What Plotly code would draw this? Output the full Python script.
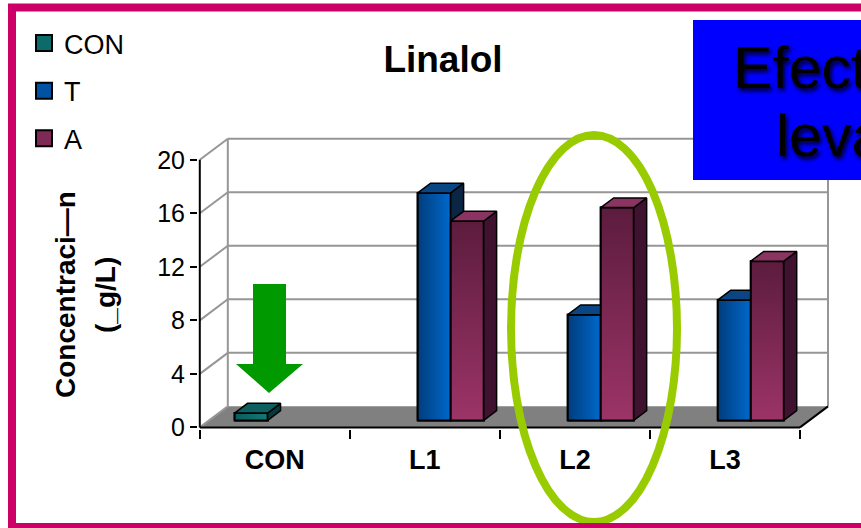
import plotly.graph_objects as go

# ---- data -------------------------------------------------------------
categories = ["CON", "L1", "L2", "L3"]
series_names = ["CON", "T", "A"]
con_values = [0.55, None, None, None]
t_values = [None, 17.0, 7.9, 9.0]
a_values = [None, 14.9, 15.9, 11.9]
y_ticks = [0, 4, 8, 12, 16, 20]
y_title_lines = ["Concentraci—n", "(_g/L)"]
chart_title = "Linalol"
banner_lines = ["Efecto de la", "levadura"]

# ---- styling ------------------------------------------------------------
FONT = "Liberation Sans, Arial, sans-serif"
W, H = 861, 528
M_L, M_R, M_T, M_B = 198, 31, 137, 99
X_RANGE = [-0.012, 4.2]
Y_RANGE = [-0.12, 21.7]
PLOT_W = W - M_L - M_R
PLOT_H = H - M_T - M_B

front_colors = {"CON": "#0b6b6b", "T": "#0052a3", "A": "#7f2a56"}
# shading of the front faces: (gradient direction, dark end, light end)
front_shading = {
    "CON": ("horizontal", "#0a5c5c", "#127a78"),
    "T": ("horizontal", "#003d7c", "#0068cc"),
    "A": ("vertical", "#5c1c3e", "#9c3467"),
}
side_colors = {"CON": "#033b3b", "T": "#0b2544", "A": "#3f1330"}
top_colors = {"CON": "#0e5f5f", "T": "#0a4684", "A": "#8a3462"}

# pseudo-3D geometry (axis units)
DEPTH_X = 0.1867          # horizontal shift from front to back wall
DEPTH_Y = 1.571           # vertical shift from front to back wall
BAR_FRONT = 1 / 3         # depth fraction where bar fronts sit
BAR_DEPTH = 0.46          # depth fraction occupied by a bar
BAR_W = 0.22
SLOT = {"CON": -BAR_W, "T": 0.0, "A": BAR_W}
N = len(categories)


def px_x(p):
    """page pixel -> paper x"""
    return (p - M_L) / PLOT_W


def px_y(p):
    """page pixel -> paper y"""
    return (H - M_B - p) / PLOT_H


def to_x(p):
    return X_RANGE[0] + (p - M_L) / PLOT_W * (X_RANGE[1] - X_RANGE[0])


def to_y(p):
    return Y_RANGE[0] + (H - M_B - p) / PLOT_H * (Y_RANGE[1] - Y_RANGE[0])


values = {"CON": con_values, "T": t_values, "A": a_values}
fig = go.Figure()

# ---- front faces of the bars --------------------------------------------
fx = BAR_FRONT * DEPTH_X
fy = BAR_FRONT * DEPTH_Y
for name in series_names:
    xs, ys = [], []
    for i, v in enumerate(values[name]):
        xs.append(i + 0.5 + SLOT[name] + fx)
        ys.append(v)
    fig.add_trace(go.Bar(
        x=xs, y=ys, base=fy, width=BAR_W, name=name, showlegend=False,
        marker=dict(color=front_colors[name], line=dict(color="black", width=2)),
    ))

# ---- side, top and shaded front faces ---------------------------------------
ddx = BAR_DEPTH * DEPTH_X
ddy = BAR_DEPTH * DEPTH_Y


def poly(xs, ys, color=None, gradient=None, width=1.5):
    kw = dict(fillcolor=color) if gradient is None else dict(fillgradient=gradient)
    fig.add_trace(go.Scatter(
        x=xs + [xs[0]], y=ys + [ys[0]], mode="lines", fill="toself",
        line=dict(color="black", width=width),
        hoverinfo="skip", showlegend=False, **kw))


for i in range(N):
    for k, name in enumerate(series_names):
        v = values[name][i]
        if v is None:
            continue
        # value of the bar standing to the right in the same group
        right = None
        if k + 1 < len(series_names):
            right = values[series_names[k + 1]][i]
        xc = i + 0.5 + SLOT[name] + fx
        xl, xr = xc - BAR_W / 2, xc + BAR_W / 2
        top = fy + v
        # gradient shading over the front face
        kind, dark, light = front_shading[name]
        if kind == "horizontal":
            grad = dict(type="horizontal", start=xl, stop=xr,
                        colorscale=[[0, dark], [1, light]])
        else:
            grad = dict(type="vertical", start=fy, stop=top,
                        colorscale=[[0, light], [1, dark]])
        poly([xl, xr, xr, xl], [fy, fy, top, top], gradient=grad, width=2)
        side_base = fy + (min(v, right) if right is not None else 0)
        if side_base < top:
            poly([xr, xr + ddx, xr + ddx, xr],
                 [side_base, side_base + ddy, top + ddy, top], side_colors[name])
        if right is not None and right > v:
            poly([xl, xr, xr, xl + ddx], [top, top, top + ddy, top + ddy], top_colors[name])
        else:
            poly([xl, xr, xr + ddx, xl + ddx], [top, top, top + ddy, top + ddy], top_colors[name])

# ---- legend entries (square swatches) ----------------------------------------
for name in series_names:
    fig.add_trace(go.Scatter(
        x=[None], y=[None], mode="markers", name=name, legendgroup=name,
        marker=dict(symbol="square", size=16, color=front_colors[name],
                    line=dict(color="black", width=2))))

# ---- walls, floor and axis furniture ---------------------------------------
shapes = []
GRID = "#969696"
shapes.append(dict(type="path", xref="x", yref="y", layer="below",
                   path=f"M0,0 L{N},0 L{N + DEPTH_X},{DEPTH_Y} L{DEPTH_X},{DEPTH_Y} Z",
                   fillcolor="#808080", line=dict(width=0)))
for t in y_ticks:
    if t > 0:
        shapes.append(dict(type="line", xref="x", yref="y", layer="below",
                           x0=DEPTH_X, y0=t + DEPTH_Y, x1=N + DEPTH_X, y1=t + DEPTH_Y,
                           line=dict(color=GRID, width=2)))
    shapes.append(dict(type="line", xref="x", yref="y", layer="below",
                       x0=0, y0=t, x1=DEPTH_X, y1=t + DEPTH_Y,
                       line=dict(color=GRID, width=2)))
for xw in (DEPTH_X, N + DEPTH_X):
    shapes.append(dict(type="line", xref="x", yref="y", layer="below",
                       x0=xw, y0=DEPTH_Y, x1=xw, y1=y_ticks[-1] + DEPTH_Y,
                       line=dict(color=GRID, width=2)))
# floor edges and front value axis
shapes.append(dict(type="line", xref="x", yref="y", layer="below",
                   x0=0, y0=0, x1=N, y1=0, line=dict(color="black", width=2)))
shapes.append(dict(type="line", xref="x", yref="y", layer="below",
                   x0=N, y0=0, x1=N + DEPTH_X, y1=DEPTH_Y, line=dict(color="black", width=2)))
shapes.append(dict(type="line", xref="x", yref="y", layer="below",
                   x0=0, y0=0, x1=0, y1=y_ticks[-1], line=dict(color="black", width=2)))

# green block arrow pointing at the control bar
arrow_px = [(253, 284), (286, 284), (286, 364), (303, 364), (269, 393), (236, 364), (253, 364)]
arrow_path = "M" + " L".join(f"{to_x(a):.4f},{to_y(b):.4f}" for a, b in arrow_px) + " Z"
shapes.append(dict(type="path", xref="x", yref="y", layer="above", path=arrow_path,
                   fillcolor="#009900", line=dict(width=0)))

# highlight ring around L2
shapes.append(dict(type="circle", xref="paper", yref="paper", layer="above",
                   x0=px_x(511), x1=px_x(677), y0=px_y(522), y1=px_y(135),
                   line=dict(color="#99cc00", width=8)))

# blue banner box
shapes.append(dict(type="rect", xref="paper", yref="paper", layer="above",
                   x0=px_x(693), x1=px_x(920), y0=px_y(180), y1=px_y(20),
                   fillcolor="#0000ff", line=dict(width=0)))

# frame
shapes.append(dict(type="rect", xref="paper", yref="paper", layer="above",
                   x0=px_x(12), x1=px_x(890), y0=px_y(527), y1=px_y(7.5),
                   line=dict(color="#cc0066", width=8), fillcolor="rgba(0,0,0,0)"))

annotations = []
for txt, cx in zip(y_title_lines, (65, 105)):
    annotations.append(dict(text=txt, xref="paper", yref="paper",
                            x=px_x(cx), y=px_y(295), textangle=-90, showarrow=False,
                            xanchor="center", yanchor="middle",
                            font=dict(family=FONT, size=28, color="black", weight="bold")))
for txt, lx, cy in zip(banner_lines, (731, 774), (68, 136)):
    annotations.append(dict(text=txt, xref="paper", yref="paper",
                            x=px_x(lx), y=px_y(cy), showarrow=False,
                            xanchor="left", yanchor="middle",
                            font=dict(family=FONT, size=59, color="black",
                                      shadow="2px 3px 4px rgba(0,0,0,0.9)")))

fig.update_layout(
    width=W, height=H,
    margin=dict(l=M_L, r=M_R, t=M_T, b=M_B, autoexpand=False),
    paper_bgcolor="white", plot_bgcolor="white",
    barmode="overlay",
    font=dict(family=FONT, color="black"),
    title=dict(text=chart_title, x=443 / W, xanchor="center", y=1 - 59 / H, yanchor="middle",
               font=dict(family=FONT, size=37, color="black", weight="bold")),
    xaxis=dict(range=X_RANGE, tickmode="array",
               tickvals=[i + 0.5 for i in range(N)], ticktext=categories,
               ticks="", showgrid=False, zeroline=False, showline=False,
               ticklabelstandoff=12,
               tickfont=dict(family=FONT, size=27, color="black", weight="bold"),
               minor=dict(tickmode="array", tickvals=list(range(N + 1)), ticks="outside",
                          ticklen=9, tickwidth=2, tickcolor="black", showgrid=False),
               fixedrange=True),
    yaxis=dict(range=Y_RANGE, tickmode="array", tickvals=y_ticks,
               ticks="outside", ticklen=7, tickwidth=2, tickcolor="black",
               showgrid=False, zeroline=False, showline=False,
               tickfont=dict(family=FONT, size=25, color="black"),
               fixedrange=True),
    legend=dict(xref="container", yref="container", x=24 / W, y=1 - 19 / H,
                xanchor="left", yanchor="top", font=dict(family=FONT, size=27, color="black"),
                tracegroupgap=9.5, bgcolor="rgba(0,0,0,0)", itemclick=False),
    shapes=shapes, annotations=annotations,
    showlegend=True,
)

fig.write_html("out.html", config={"displayModeBar": False})
